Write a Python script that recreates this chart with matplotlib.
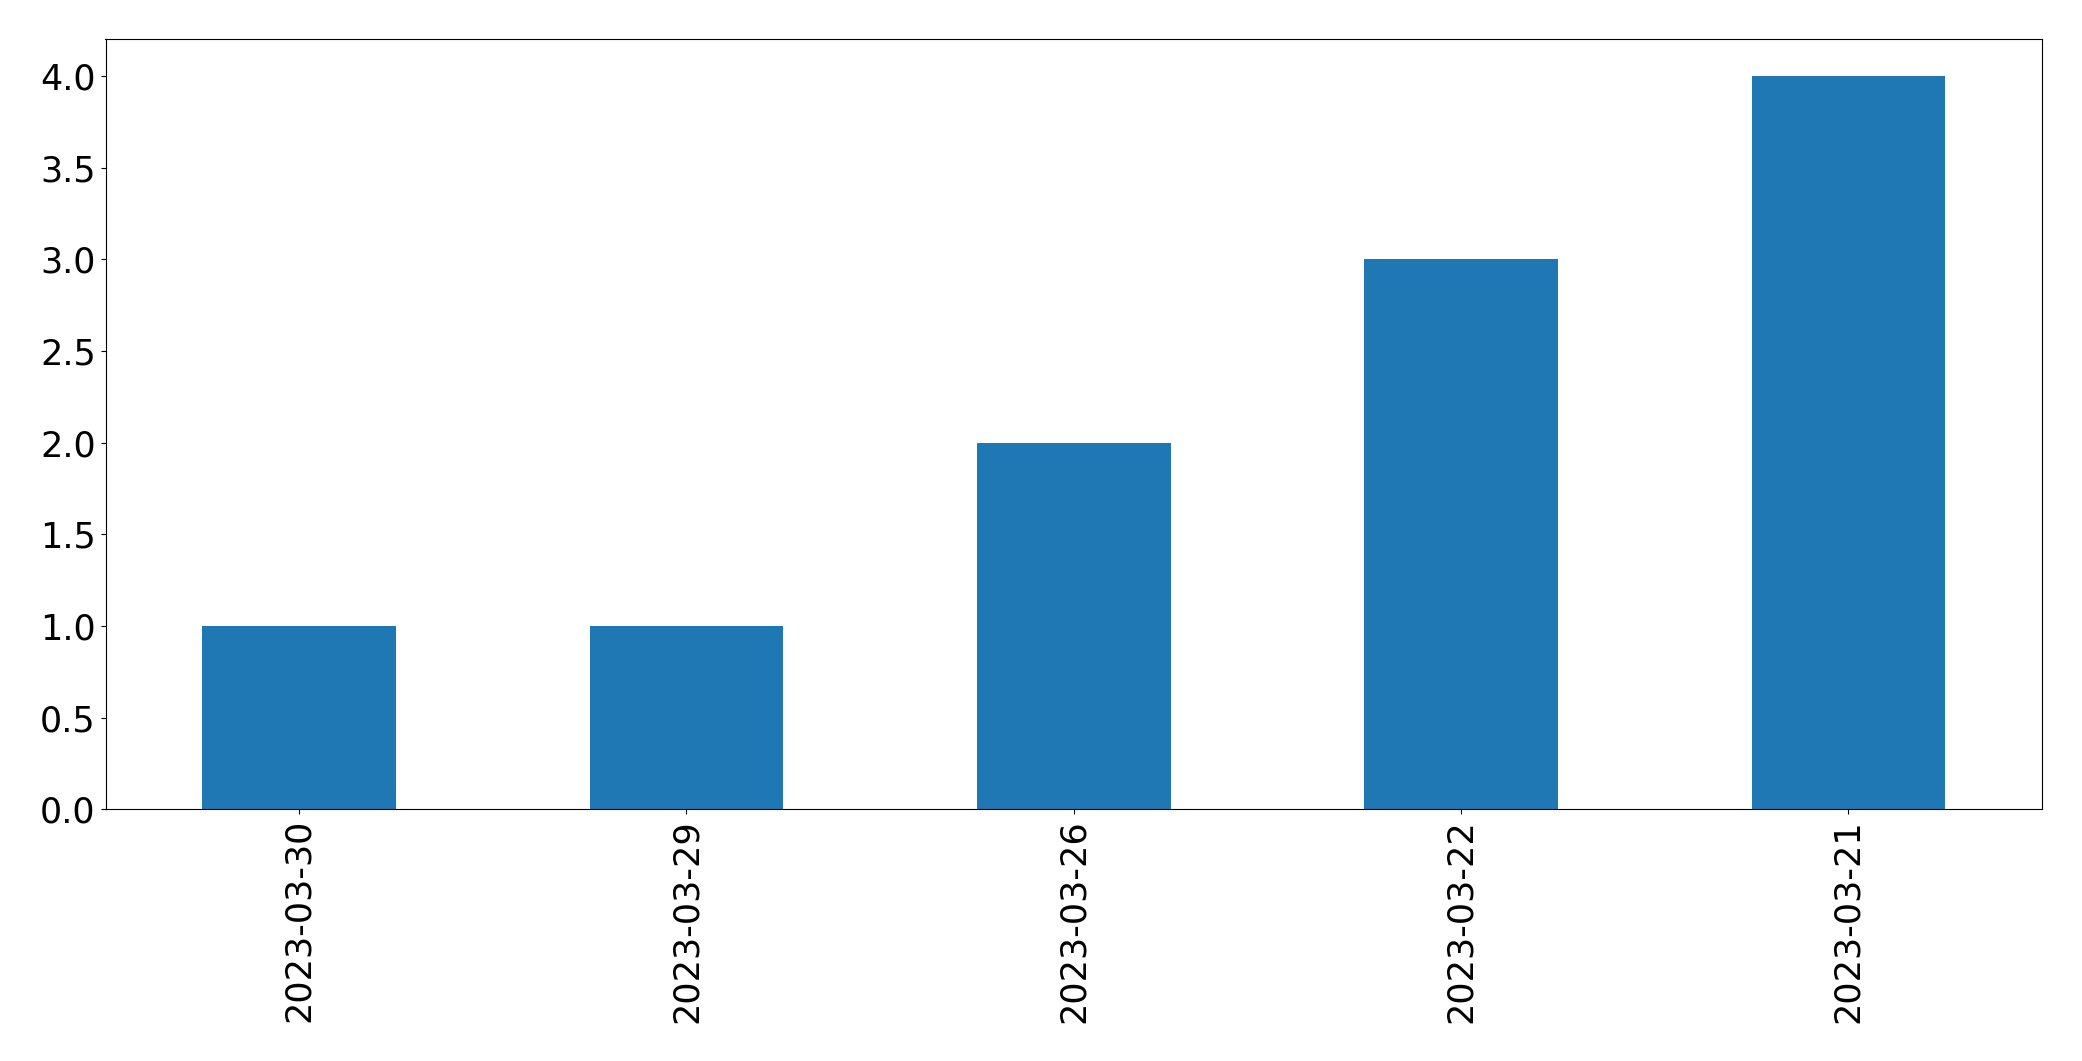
import matplotlib
matplotlib.use('Agg')
import matplotlib.pyplot as plt

dates = ['2023-03-30', '2023-03-29', '2023-03-26', '2023-03-22', '2023-03-21']
counts = [1, 1, 2, 3, 4]

fig = plt.figure(figsize=(20.82, 10.61), dpi=100)
ax = fig.add_axes([105.5 / 2082, (1061 - 809.3) / 1061,
                   (2042 - 105.5) / 2082, (809.3 - 39.3) / 1061])

x_pos = range(len(dates))
ax.bar(x_pos, counts, width=0.5, color='#1f77b4')
ax.set_xlim(-0.5, len(dates) - 0.5)
ax.set_ylim(0, 4.2)
ax.set_xticks(list(x_pos))
ax.set_xticklabels(dates, rotation=90)
ax.tick_params(labelsize=25.2)

plt.savefig('out.png', dpi=100)
